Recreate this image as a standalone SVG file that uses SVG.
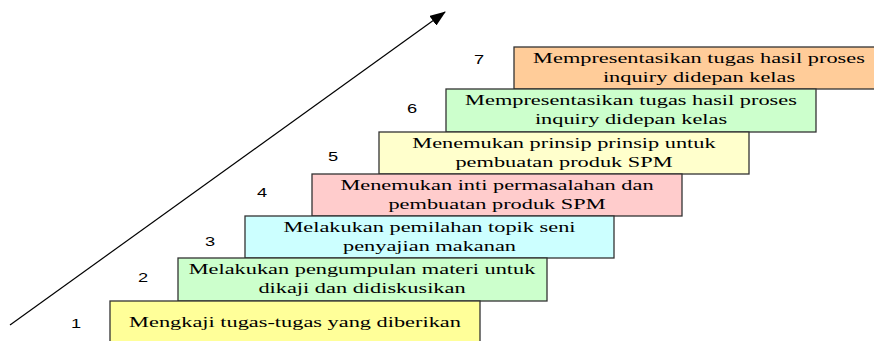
<svg xmlns="http://www.w3.org/2000/svg" width="874" height="341" viewBox="0 0 874 341">
<defs>
<style>
.box{stroke:#333;stroke-width:1.3}
.t{font-family:"Liberation Serif","Times New Roman",serif;font-size:15px;fill:#000;text-anchor:middle}
.n{font-family:"Liberation Sans",Arial,sans-serif;font-size:13.5px;fill:#000;text-anchor:middle}
</style>
<marker id="ah" markerWidth="16" markerHeight="12" refX="15" refY="6" orient="auto" markerUnits="userSpaceOnUse">
<path d="M0,0 L16,6 L0,12 Z" fill="#000"/>
</marker>
</defs>
<rect width="874" height="341" fill="#fff"/>
<g id="connectors">
<line x1="10" y1="325" x2="445" y2="12" stroke="#000" stroke-width="1.2" marker-end="url(#ah)"/>
</g>
<g id="step7">
<rect class="box" x="514" y="47" width="370" height="42" fill="#FFCC99"/>
<text class="t" transform="translate(699,63) scale(1.49,1)">Mempresentasikan tugas hasil proses</text>
<text class="t" transform="translate(699,82) scale(1.49,1)">inquiry didepan kelas</text>
<text class="n" transform="translate(479,64) scale(1.35,1)">7</text>
</g>
<g id="step6">
<rect class="box" x="446" y="89" width="370" height="43" fill="#CCFFCC"/>
<text class="t" transform="translate(631,105) scale(1.49,1)">Mempresentasikan tugas hasil proses</text>
<text class="t" transform="translate(631,123.5) scale(1.49,1)">inquiry didepan kelas</text>
<text class="n" transform="translate(412,113) scale(1.35,1)">6</text>
</g>
<g id="step5">
<rect class="box" x="379" y="132" width="370" height="42" fill="#FFFFCC"/>
<text class="t" transform="translate(564,148) scale(1.49,1)">Menemukan prinsip prinsip untuk</text>
<text class="t" transform="translate(564,166.5) scale(1.49,1)">pembuatan produk SPM</text>
<text class="n" transform="translate(333,161) scale(1.35,1)">5</text>
</g>
<g id="step4">
<rect class="box" x="312" y="174" width="370" height="42" fill="#FFCCCC"/>
<text class="t" transform="translate(497,190) scale(1.49,1)">Menemukan inti permasalahan dan</text>
<text class="t" transform="translate(497,208.5) scale(1.49,1)">pembuatan produk SPM</text>
<text class="n" transform="translate(262,197) scale(1.35,1)">4</text>
</g>
<g id="step3">
<rect class="box" x="245" y="216" width="369" height="42" fill="#CCFFFF"/>
<text class="t" transform="translate(429.5,232) scale(1.49,1)">Melakukan pemilahan topik seni</text>
<text class="t" transform="translate(429.5,250.5) scale(1.49,1)">penyajian makanan</text>
<text class="n" transform="translate(210,246) scale(1.35,1)">3</text>
</g>
<g id="step2">
<rect class="box" x="178" y="258" width="369" height="43" fill="#CCFFCC"/>
<text class="t" transform="translate(362,274) scale(1.49,1)">Melakukan pengumpulan materi untuk</text>
<text class="t" transform="translate(362,292.5) scale(1.49,1)">dikaji dan didiskusikan</text>
<text class="n" transform="translate(143,282) scale(1.35,1)">2</text>
</g>
<g id="step1">
<rect class="box" x="110" y="301" width="370" height="50" fill="#FFFF99"/>
<text class="t" transform="translate(295,327) scale(1.49,1)">Mengkaji tugas-tugas yang diberikan</text>
<text class="n" transform="translate(76,328) scale(1.35,1)">1</text>
</g>
</svg>
